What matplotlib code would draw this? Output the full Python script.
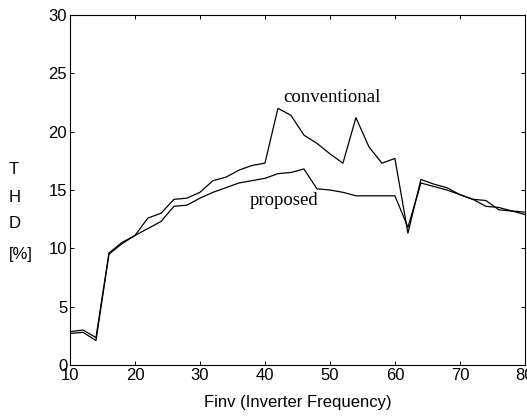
import matplotlib
matplotlib.use("Agg")
import matplotlib.pyplot as plt

# inverter frequency (Hz), THD (%)
freq = [10, 12, 14, 16, 18, 20, 22, 24, 26, 28, 30, 32, 34, 36, 38, 40, 42, 44,
        46, 48, 50, 52, 54, 56, 58, 60, 62, 64, 66, 68, 70, 72, 74, 76, 78, 80]
thd_conventional = [2.85, 3.0, 2.35, 9.6, 10.5, 11.1, 12.6, 13.0, 14.2, 14.3, 14.8, 15.8,
                    16.1, 16.7, 17.1, 17.3, 22.0, 21.4, 19.7, 19.0, 18.1, 17.3, 21.2, 18.7,
                    17.3, 17.7, 11.3, 15.9, 15.5, 15.2, 14.6, 14.2, 14.1, 13.3, 13.2, 12.9]
thd_proposed = [2.7, 2.8, 2.1, 9.5, 10.4, 11.1, 11.7, 12.3, 13.6, 13.7, 14.3, 14.8,
                15.2, 15.6, 15.8, 16.0, 16.4, 16.5, 16.8, 15.1, 15.0, 14.8, 14.5, 14.5,
                14.5, 14.5, 11.8, 15.6, 15.3, 15.0, 14.6, 14.2, 13.6, 13.5, 13.2, 13.1]

x_ticks = [10, 20, 30, 40, 50, 60, 70, 80]
y_ticks = [0, 5, 10, 15, 20, 25, 30]

fig = plt.figure(figsize=(5.27, 4.16), dpi=100)
ax = fig.add_axes([0.1328, 0.1226, 0.8632, 0.8414])

ax.plot(freq, thd_conventional, color="black", linewidth=0.9)
ax.plot(freq, thd_proposed, color="black", linewidth=0.9)

ax.set_xlim(10, 80)
ax.set_ylim(0, 30)
ax.set_xticks(x_ticks)
ax.set_yticks(y_ticks)
ax.tick_params(direction="in", length=3, width=0.7, top=True, right=True,
               labelsize=12, pad=2)
for lab in ax.get_xticklabels() + ax.get_yticklabels():
    lab.set_family("Liberation Sans")
for sp in ax.spines.values():
    sp.set_linewidth(0.8)

ax.text(42.8, 22.5, "conventional", family="Liberation Serif", fontsize=13.5)
ax.text(37.7, 13.7, "proposed", family="Liberation Serif", fontsize=13.5)

ax.set_xlabel("Finv (Inverter Frequency)", family="Liberation Sans", fontsize=12,
              labelpad=9)

# stacked y label, one letter per line
for s, yp in [("T", 170), ("H", 198), ("D", 224), ("[%]", 254)]:
    fig.text(9 / 527, 1 - yp / 416, s, family="Liberation Sans", fontsize=12,
             ha="left", va="center")

fig.savefig("out.png", dpi=100)
